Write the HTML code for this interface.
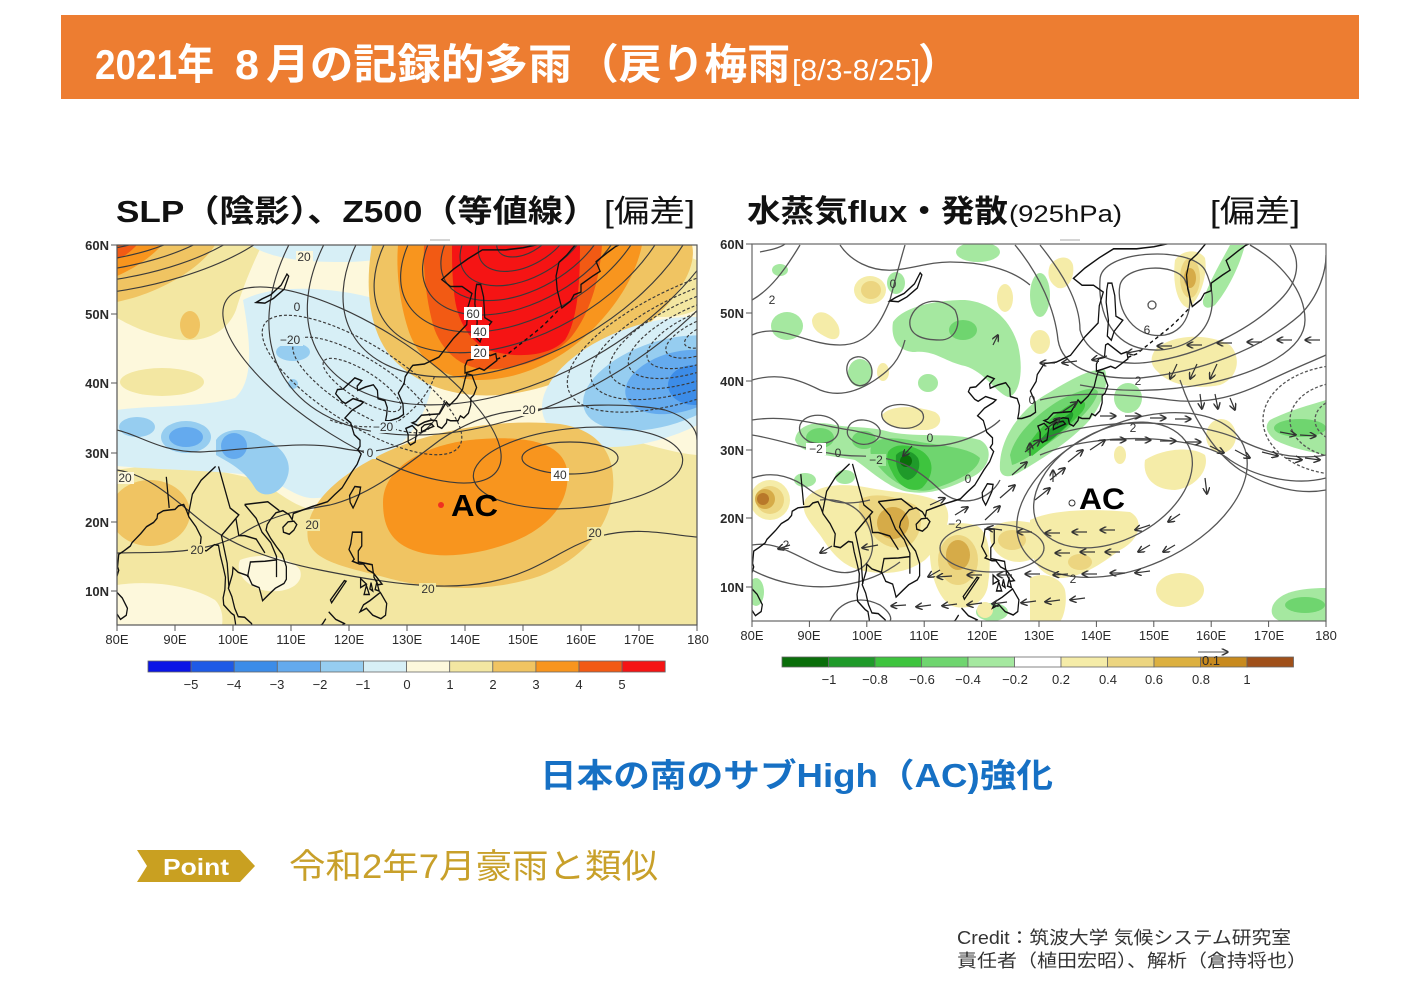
<!DOCTYPE html>
<html><head><meta charset="utf-8">
<style>
html,body{margin:0;padding:0;background:#fff;}
body{width:1422px;height:1006px;overflow:hidden;position:relative;}
svg{position:absolute;left:0;top:0;}
.jp{font-family:"Liberation Sans","Noto Sans CJK JP",sans-serif;}
.ax{font-family:"Liberation Sans",sans-serif;font-size:13px;fill:#2a2a2a;}
.cl{font-family:"Liberation Sans",sans-serif;font-size:12px;fill:#333;}
</style></head>
<body>
<svg width="1422" height="1006" viewBox="0 0 1422 1006" xmlns="http://www.w3.org/2000/svg">
<defs>
<clipPath id="clipL"><rect x="117" y="245" width="580" height="380"/></clipPath>
<clipPath id="clipR"><rect x="752" y="244" width="574" height="377"/></clipPath>
<marker id="ah" viewBox="0 0 10 10" refX="9" refY="5" markerWidth="6" markerHeight="6" orient="auto">
<path d="M0,0 L10,5 L0,10" fill="none" stroke="#333" stroke-width="2"/>
</marker>
<g id="coast" fill="none" stroke="#111" stroke-width="0.22">
<path d="M155,60.5 L150,59.6 L147,59.3 L143,59.3 L140.5,58 L138,56.5 L136,55 L137.5,54 L139.5,54 L141.2,53 L140.5,51 L140.3,48.5 L138,46.5 L135.5,43.8 L133,42.8 L131,42.6 L130.7,42.3 L129.7,41 L129.5,40 L128.5,38.6 L129.3,37 L129.4,35.5 L128.5,35 L127,34.6 L126.3,34.6 L126.5,35.5 L126.6,36.5 L126.2,37.5 L125,37.8 L124.9,39 L124.2,39.8 L122.9,39.5 L121.5,39 L121.4,39.6 L122.2,40.4 L121,40.8 L120,40 L119,39.2 L118,39.1 L117.7,38.5 L118.8,37.4 L119.4,37.1 L120.7,37.8 L122.5,37.3 L122,36.9 L120.5,36.1 L119.3,35 L120.3,34.3 L120.9,32.6 L121.9,31.8 L121.9,30.9 L121.5,30.4 L122.1,29.8 L121.4,28.3 L120.4,27.1 L119.6,26 L118.8,24.9 L117.5,23.9 L116.3,22.9 L114.8,22.5 L113.6,22.2 L112,21.7 L110.4,21.2 L110.2,20.3 L109.7,21 L108.6,21.6 L107.4,21.3 L106.6,20.5 L105.9,19.6 L105.7,18.8 L106.5,17.6 L107.5,16.4 L108.5,15.3 L109.2,13.5 L109.2,11.7 L108.8,11.1 L107.3,10.4 L106.3,9.6 L105.1,8.6 L104.8,9.6 L104.5,10.5 L103.3,10.9 L102.6,12.2 L100.9,12.7 L100,13.4 L99.9,12.4 L99.2,10.4 L99.8,9.2 L100.3,7.5 L100.9,6.3 L102,6.2 L103.2,5.3 L103.5,4"/>
<path d="M100.6,4 L100.4,5.5 L100.2,6.5 L99.7,6.8 L98.4,8 L98.3,9 L98.6,10.2 L98.7,12 L98.3,13.5 L97.8,15.2 L97.5,16.6 L96.8,16.7 L95.4,15.8 L94.3,16 L94.5,17.8 L93.6,19.3 L92.4,20.7 L92,21.6 L91.5,22.5 L90.6,22.3 L90,21.8 L89,21.7 L88,21.6 L87,21.1 L86.9,20.5 L86.3,19.9 L85.1,19.3 L84.1,18.3 L82.6,17 L82.3,16.5 L81.2,15.8 L80.3,15.3 L80.1,13.5 L80.3,13 L79.8,11.6 L79.8,10.3 L79,9.5"/>
<path d="M80,9.8 L80.9,9 L81.8,7.5 L81.6,6.5 L80.6,5.9 L79.9,6.8 L79.8,8.2 Z"/>
<path d="M108.6,19.2 L109.5,20 L110.5,20.1 L111,19.6 L110.5,18.8 L109.7,18.2 L108.7,18.5 Z"/>
<path d="M121,25.1 L122,25 L121.8,24 L121,22.5 L120.7,22 L120.2,22.8 L120.1,23.8 L120.8,24.8 Z"/>
<path d="M129.8,33.5 L130.9,33.9 L131.7,33.2 L131.4,31.5 L130.6,31.1 L130.2,31.5 L130.2,32.6 Z"/>
<path d="M132.5,33 L133.5,33.4 L134.6,33.8 L134.2,34.2 L133,34 L132.5,33.6 Z"/>
<path d="M130.9,34.3 L131.5,34.5 L132.5,35.4 L134,35.5 L135.6,35.6 L136.8,37.3 L137.3,36.8 L138.6,37.9 L139.6,39.2 L140,40.6 L140.3,41.4 L141.2,41.2 L141.5,40.5 L142,39.4 L141.5,38.3 L141,37.9 L141,36.9 L140.6,35.7 L139.8,35 L139.2,35.3 L138.8,34.6 L137.5,34.6 L136.9,34.8 L136.8,34.3 L136,33.5 L135.3,33.8 L135.1,34.6 L134.2,34.7 L133,34.4 L131.9,33.9 Z"/>
<path d="M140,41.5 L141.2,41.8 L142.5,42.2 L143.3,41.9 L145.5,43.3 L145.3,44.3 L144.3,44 L142,45.5 L141.6,45.3 L141.4,43.5 L140.4,43.3 L140,42.5 Z"/>
<path d="M142,54.3 L142.7,54.3 L143.2,52.5 L143.4,49.5 L144.6,48.9 L143.1,47.3 L142.6,46 L141.9,46.6 L142.1,48.9 L141.7,51.5 L141.8,53.3 Z"/>
<path d="M160,61 L157.5,58.5 L156.2,57.5 L155.7,55.5 L155.9,53.5 L156.5,51.5 L156.7,50.9 L158.2,51.9 L158.8,52.8 L160,53.2 L160,54.3 L162,55.5 L163.3,56.2 L162.6,57.6 L163.2,58 L164.7,59 L166,59.8 L168,60.6"/>
<path d="M145.5,43.5 L147,44 L148.5,45 L150,46 L151.5,47 L153,48 L154.5,49.2 L156,50.5" stroke-dasharray="0.6 0.5"/>
<path d="M120.6,18.5 L122.2,18.5 L122.2,16.5 L121.6,15.8 L121.6,14.2 L124,13.8 L124.2,12.6 L123.3,13 L122.5,13.9 L121.8,13.9 L120.6,14.3 L120.9,14.6 L120,16 L120.3,16.8 Z"/>
<path d="M121.9,7 L122.5,8 L123.6,8.6 L125.4,9.8 L126.5,8.2 L126.3,6.5 L125.5,6 L124.1,6.5 L123,7.5 Z"/>
<path d="M124.3,12.5 L125.7,11 L125,10.9 L124.3,12 Z M122,11.8 L123,11 L122,10.5 Z M123,10.8 L123.5,9.5 L122.6,9.5 Z M124.8,11.3 L125.2,10 L124.5,10.2 Z M123.8,11.2 L124.1,10 L123.6,10.3 Z"/>
<path d="M117,8.3 L119.5,11.4 L119.2,11.5 L116.8,8.7 Z"/>
<path d="M116.5,7 L117.7,5.9 L119.2,5.3 L118,4.5 M116,6 L115.4,5.2 L114,4.5"/>
<path d="M104,51.7 L105.5,51.6 L107,52.3 L108.8,53.6 L109.6,55.5 L109.3,55.8 L108.3,54.2 L106.5,52.8 L105,52.2 Z"/>
<path d="M88.5,26.5 L89,22 M97.5,28 L98.5,25 L99.5,22 L101,21 L100,20 L98,18 L98.5,16 L99,14 L99.3,10.5 M102,22.5 L104,20.5 L105,18.5 L106.5,17 L107.5,15 L107.5,12 M102.5,12 L103,14.2 L105.5,14.3 L107.5,14.5 M102,22.5 L106,22.9 L108,21.6 M92.3,21 L93,24 L94.5,26 L97,28 M100.5,20.5 L101,18 L102,18 L104,17.5 L105.5,15.5"/>
</g>
</defs>

<!-- Title bar -->
<rect x="61" y="15" width="1298" height="84" fill="#ED7D31"/>
<g class="jp" fill="#fff" font-weight="bold">
<text x="95" y="79" font-size="42" textLength="119" lengthAdjust="spacingAndGlyphs">2021年</text>
<text x="235" y="79" font-size="42" textLength="24" lengthAdjust="spacingAndGlyphs">8</text>
<text x="266" y="79" font-size="42" textLength="306" lengthAdjust="spacingAndGlyphs">月の記録的多雨</text>
<text x="576" y="79" font-size="42" textLength="214" lengthAdjust="spacingAndGlyphs">（戻り梅雨</text>
<text x="792" y="80" font-size="29" font-weight="normal" textLength="128" lengthAdjust="spacingAndGlyphs">[8/3-8/25]</text>
<text x="918" y="79" font-size="42" textLength="42" lengthAdjust="spacingAndGlyphs">）</text>
</g>

<!-- Map titles -->
<g class="jp" fill="#111">
<text x="116" y="222" font-size="31" font-weight="bold" textLength="482" lengthAdjust="spacingAndGlyphs">SLP（陰影）、Z500（等値線）</text>
<text x="604" y="222" font-size="31" textLength="91" lengthAdjust="spacingAndGlyphs">[偏差]</text>
<text x="747" y="222" font-size="31" font-weight="bold" textLength="261" lengthAdjust="spacingAndGlyphs">水蒸気flux・発散</text>
<text x="1009" y="222" font-size="24" textLength="113" lengthAdjust="spacingAndGlyphs">(925hPa)</text>
<text x="1210" y="222" font-size="31" textLength="90" lengthAdjust="spacingAndGlyphs">[偏差]</text>
</g>
<line x1="430" y1="240" x2="450" y2="240" stroke="#aaa" stroke-width="1"/>
<line x1="1060" y1="240" x2="1080" y2="240" stroke="#aaa" stroke-width="1"/>

<!-- ================= LEFT MAP ================= -->
<g clip-path="url(#clipL)">
<rect x="117" y="245" width="580" height="380" fill="#fdf8dc"/>
<path fill="#f3e7a2" d="M117,470 C160,462 210,468 250,478 C275,485 285,505 320,512 C360,514 390,500 420,470 C450,440 500,425 560,428 C620,432 660,452 697,455 L697,625 L117,625 Z"/>
<path fill="#fdf8dc" d="M117,585 C150,580 190,585 215,600 C225,610 222,625 222,625 L117,625Z"/>
<path fill="#fdf8dc" d="M240,560 C260,552 290,556 300,570 C305,585 285,595 262,590 C245,585 235,572 240,560Z"/>
<path fill="#f3e7a2" d="M117,245 L262,245 C252,265 242,290 236,310 C226,335 200,345 170,338 C140,332 125,322 117,318Z"/>
<ellipse cx="162" cy="382" rx="42" ry="14" fill="#f3e7a2"/>
<ellipse cx="228" cy="410" rx="22" ry="8" fill="#f3e7a2"/>
<ellipse cx="662" cy="285" rx="55" ry="32" fill="#f3e7a2"/>
<path fill="#f0c462" d="M117,245 L215,245 C205,262 180,280 150,292 C135,298 125,300 117,302Z"/>
<path fill="#f8951e" d="M117,245 L162,245 C150,258 135,268 117,276Z"/>
<path fill="#f25a14" d="M117,245 L137,245 C130,252 124,257 117,259Z"/>
<ellipse cx="190" cy="325" rx="10" ry="14" fill="#f0c462"/>
<path fill="#d7eff6" d="M243,300 C270,285 330,285 380,300 C420,315 440,350 432,385 C425,420 405,445 380,460 C360,480 340,500 310,498 C290,495 280,480 250,475 C210,470 160,470 117,466 L117,410 C150,405 200,408 235,398 C255,380 250,340 243,300Z"/>
<path fill="#d7eff6" d="M250,245 L420,245 C410,255 380,262 340,262 C300,262 270,258 250,245Z"/>
<ellipse cx="293" cy="352" rx="17" ry="9" fill="#96cdf0"/>
<circle cx="293" cy="384" r="5" fill="#96cdf0"/>
<ellipse cx="137" cy="427" rx="18" ry="10" fill="#96cdf0"/>
<ellipse cx="186" cy="437" rx="25" ry="16" fill="#96cdf0"/>
<path fill="#96cdf0" d="M216,440 C225,426 250,428 262,438 C280,445 294,460 287,478 C280,496 262,499 255,488 C245,470 228,462 216,455Z"/>
<ellipse cx="186" cy="437" rx="17" ry="10" fill="#64aaee"/>
<ellipse cx="234" cy="446" rx="13" ry="13" fill="#64aaee"/>
<path fill="#f0c462" d="M372,245 L692,245 C697,265 682,295 642,330 C602,365 560,387 510,394 C460,400 420,387 394,360 C370,335 364,290 372,245Z"/>
<path fill="#f8951e" d="M398,245 L642,245 C637,270 622,300 592,330 C562,360 520,380 480,380 C445,380 420,362 409,332 C399,302 396,270 398,245Z"/>
<path fill="#f25a14" d="M424,245 L602,245 C600,275 592,310 572,336 C552,360 512,371 482,369 C456,366 438,346 432,321 C426,296 423,270 424,245Z"/>
<path fill="#f51414" d="M452,245 L580,245 C580,280 578,320 565,340 C550,356 520,358 495,352 C470,346 458,320 455,300 C452,280 452,260 452,245Z"/>
<ellipse cx="650" cy="382" rx="112" ry="58" transform="rotate(-18 650 382)" fill="#d7eff6"/>
<ellipse cx="664" cy="383" rx="84" ry="42" transform="rotate(-18 664 383)" fill="#96cdf0"/>
<ellipse cx="678" cy="382" rx="54" ry="30" transform="rotate(-15 678 382)" fill="#64aaee"/>
<ellipse cx="694" cy="385" rx="26" ry="20" fill="#3c8ce8"/>
<path fill="#f0c462" d="M308,540 C303,510 330,480 380,455 C430,430 500,418 560,424 C600,430 616,455 613,490 C609,530 580,560 540,576 C490,593 430,591 380,576 C340,566 313,560 308,540Z"/>
<path fill="#f8951e" d="M383,502 C383,470 420,446 470,440 C520,435 562,440 567,470 C571,500 551,526 515,541 C475,557 430,561 404,546 C387,536 383,520 383,502Z"/>
<ellipse cx="150" cy="513" rx="40" ry="33" fill="#f0c462"/>

<g fill="none" stroke="#3a3a3a" stroke-width="1.15">
<g transform="rotate(-30 525 235)">
<ellipse cx="525" cy="235" rx="31" ry="18"/>
<ellipse cx="525" cy="235" rx="51" ry="30"/>
<ellipse cx="525" cy="235" rx="71" ry="42"/>
<ellipse cx="525" cy="235" rx="92" ry="54"/>
<ellipse cx="525" cy="235" rx="112" ry="66"/>
<ellipse cx="525" cy="235" rx="136" ry="80"/>
<ellipse cx="525" cy="235" rx="165" ry="97"/>
<ellipse cx="525" cy="235" rx="199" ry="117"/>
<ellipse cx="525" cy="235" rx="238" ry="140"/>
<ellipse cx="525" cy="235" rx="280" ry="165"/>
</g>
<g transform="rotate(-8 100 215)">
<ellipse cx="100" cy="215" rx="40" ry="15"/>
<ellipse cx="100" cy="215" rx="65" ry="25"/>
<ellipse cx="100" cy="215" rx="90" ry="35"/>
<ellipse cx="100" cy="215" rx="115" ry="45"/>
<ellipse cx="100" cy="215" rx="140" ry="55"/>
<ellipse cx="100" cy="215" rx="168" ry="66"/>
<ellipse cx="100" cy="215" rx="196" ry="78"/>
</g>
<g transform="rotate(32 362 385)">
<ellipse cx="362" cy="385" rx="45" ry="14" stroke-dasharray="3 2"/>
<ellipse cx="362" cy="385" rx="80" ry="26" stroke-dasharray="3 2"/>
<ellipse cx="362" cy="385" rx="115" ry="40" stroke-dasharray="3 2"/>
<ellipse cx="362" cy="385" rx="160" ry="58"/>
</g>
<g transform="rotate(-22 708 335)" stroke-dasharray="3 2">
<ellipse cx="708" cy="335" rx="25" ry="10"/>
<ellipse cx="708" cy="335" rx="45" ry="17"/>
<ellipse cx="708" cy="335" rx="65" ry="25"/>
<ellipse cx="708" cy="335" rx="85" ry="32"/>
<ellipse cx="708" cy="335" rx="105" ry="40"/>
<ellipse cx="708" cy="335" rx="125" ry="48"/>
<ellipse cx="708" cy="335" rx="150" ry="57"/>
</g>
<ellipse cx="570" cy="458" rx="48" ry="16"/>
<ellipse cx="578" cy="468" rx="105" ry="40" transform="rotate(-5 578 468)"/>
<path d="M117,470 C150,475 175,500 200,520 C230,545 270,560 320,570 C380,582 440,592 490,582 C540,572 560,548 600,536 C640,526 670,535 697,537"/>
<path d="M117,553 C160,552 200,555 240,535 C270,515 300,510 330,505 C370,495 400,470 440,440 C470,420 500,410 530,410 C580,405 625,402 665,410 C690,418 697,430 697,440"/>
<path d="M117,430 C140,435 160,452 200,452 C250,450 300,440 340,448 C360,452 380,455 410,440 C430,430 440,415 445,400"/>
<path d="M330,420 C350,428 380,430 400,420 C420,405 430,390 435,375" stroke-dasharray="3 2"/>
</g>
<use href="#coast" transform="matrix(5.8,0,0,-6.92,-347,660.2)"/>
<g class="cl" text-anchor="middle">
<rect x="296" y="251" width="17" height="12" fill="#fdf8dc"/><text x="304" y="261">20</text>
<rect x="291" y="301" width="12" height="12" fill="#d7eff6"/><text x="297" y="311">0</text>
<rect x="278" y="334" width="25" height="12" fill="#d7eff6"/><text x="290" y="344">−20</text>
<rect x="464" y="307" width="18" height="13" fill="#fff"/><text x="473" y="318">60</text>
<rect x="471" y="325" width="18" height="13" fill="#fff"/><text x="480" y="336">40</text>
<rect x="471" y="346" width="18" height="13" fill="#fff"/><text x="480" y="357">20</text>
<rect x="371" y="421" width="25" height="12" fill="#d7eff6"/><text x="383" y="431">−20</text>
<rect x="521" y="404" width="17" height="12" fill="#fdf8dc"/><text x="529" y="414">20</text>
<rect x="364" y="447" width="12" height="12" fill="#d7eff6"/><text x="370" y="457">0</text>
<rect x="551" y="468" width="18" height="13" fill="#fff"/><text x="560" y="479">40</text>
<rect x="117" y="472" width="17" height="12" fill="#fdf8dc"/><text x="125" y="482">20</text>
<rect x="303" y="519" width="17" height="12" fill="#f3e7a2"/><text x="312" y="529">20</text>
<rect x="188" y="544" width="17" height="12" fill="#f3e7a2"/><text x="197" y="554">20</text>
<rect x="587" y="527" width="17" height="12" fill="#f3e7a2"/><text x="595" y="537">20</text>
<rect x="419" y="583" width="17" height="12" fill="#f3e7a2"/><text x="428" y="593">20</text>
</g>
<circle cx="441" cy="505" r="3" fill="#f03020"/>
<text x="451" y="516" class="jp" font-size="31" font-weight="bold" fill="#000" textLength="47" lengthAdjust="spacingAndGlyphs">AC</text>
</g>
<rect x="117" y="245" width="580" height="380" fill="none" stroke="#555" stroke-width="1.2"/>
<g stroke="#555" stroke-width="1">
<path d="M111,245H117M111,314H117M111,383H117M111,453H117M111,522H117M111,591H117"/>
<path d="M117,625V631M175,625V631M233,625V631M291,625V631M349,625V631M407,625V631M465,625V631M523,625V631M581,625V631M639,625V631M697,625V631"/>
</g>
<g class="ax" text-anchor="end" font-weight="bold">
<text x="109" y="250">60N</text><text x="109" y="319">50N</text><text x="109" y="388">40N</text>
<text x="109" y="458">30N</text><text x="109" y="527">20N</text><text x="109" y="596">10N</text>
</g>
<g class="ax" text-anchor="middle">
<text x="117" y="644">80E</text><text x="175" y="644">90E</text><text x="233" y="644">100E</text>
<text x="291" y="644">110E</text><text x="349" y="644">120E</text><text x="407" y="644">130E</text>
<text x="465" y="644">140E</text><text x="523" y="644">150E</text><text x="581" y="644">160E</text>
<text x="639" y="644">170E</text><text x="698" y="644">180</text>
</g>
<g stroke="#666" stroke-width="0.8">
<rect x="148" y="661" width="43.1" height="11" fill="#0a14e6"/>
<rect x="191.1" y="661" width="43.1" height="11" fill="#1e5ae6"/>
<rect x="234.2" y="661" width="43.1" height="11" fill="#3c8ce8"/>
<rect x="277.3" y="661" width="43.1" height="11" fill="#64aaee"/>
<rect x="320.4" y="661" width="43.1" height="11" fill="#96cdf0"/>
<rect x="363.5" y="661" width="43.1" height="11" fill="#d7eff6"/>
<rect x="406.6" y="661" width="43.1" height="11" fill="#fdf8dc"/>
<rect x="449.7" y="661" width="43.1" height="11" fill="#f3e7a2"/>
<rect x="492.8" y="661" width="43.1" height="11" fill="#f0c462"/>
<rect x="535.9" y="661" width="43.1" height="11" fill="#f8951e"/>
<rect x="579" y="661" width="43.1" height="11" fill="#f25a14"/>
<rect x="622.1" y="661" width="43.1" height="11" fill="#f51414"/>
</g>
<g class="ax" text-anchor="middle" font-size="14">
<text x="191" y="689">−5</text><text x="234" y="689">−4</text><text x="277" y="689">−3</text>
<text x="320" y="689">−2</text><text x="363" y="689">−1</text><text x="407" y="689">0</text>
<text x="450" y="689">1</text><text x="493" y="689">2</text><text x="536" y="689">3</text>
<text x="579" y="689">4</text><text x="622" y="689">5</text>
</g>

<!-- ================= RIGHT MAP ================= -->
<g clip-path="url(#clipR)">
<rect x="752" y="244" width="574" height="377" fill="#fff"/>
<g fill="#a5e8a0">
<ellipse cx="978" cy="252" rx="22" ry="10"/>
<ellipse cx="896" cy="283" rx="9" ry="11"/>
<ellipse cx="787" cy="326" rx="16" ry="14"/>
<path d="M893,322 C905,305 940,300 965,300 C990,302 1010,318 1018,345 C1024,370 1020,395 1008,397 C995,392 985,372 965,366 C945,362 935,350 915,352 C900,352 890,340 893,322Z"/>
<ellipse cx="860" cy="373" rx="12" ry="14"/>
<ellipse cx="928" cy="383" rx="10" ry="9"/>
<path d="M795,440 C797,425 815,420 835,425 C850,428 870,426 890,432 C920,438 950,432 980,440 C995,448 990,470 970,478 C950,488 930,495 910,492 C890,490 870,470 855,460 C830,455 800,455 795,440Z"/>
<ellipse cx="805" cy="480" rx="11" ry="7"/>
<ellipse cx="845" cy="477" rx="10" ry="7"/>
<path d="M1000,470 C998,440 1020,410 1045,395 C1070,380 1090,368 1105,370 C1110,385 1100,410 1085,425 C1065,445 1040,460 1020,472 C1010,478 1002,478 1000,470Z"/>
<ellipse cx="1040" cy="295" rx="10" ry="22"/>
<path d="M1203,300 C1210,280 1222,260 1230,245 L1245,245 C1240,265 1228,290 1215,305 C1208,310 1202,308 1203,300Z"/>
<ellipse cx="1128" cy="398" rx="14" ry="15"/>
<path d="M1270,420 C1290,410 1310,405 1326,400 L1326,455 C1310,452 1290,448 1275,440 C1265,432 1265,425 1270,420Z"/>
<path d="M1273,605 C1280,592 1300,588 1326,588 L1326,621 L1280,621 C1272,618 1270,612 1273,605Z"/>
<ellipse cx="992" cy="612" rx="16" ry="9"/>
<ellipse cx="756" cy="592" rx="8" ry="14"/>
<ellipse cx="780" cy="270" rx="8" ry="6"/>
</g>
<g fill="#6fd56f">
<path d="M872,445 C880,435 900,438 920,442 C945,446 970,448 980,458 C978,472 955,482 930,490 C910,494 890,480 880,468 C872,460 868,452 872,445Z"/>
<ellipse cx="820" cy="438" rx="14" ry="10"/>
<ellipse cx="864" cy="440" rx="12" ry="9"/>
<path d="M1010,455 C1015,435 1035,415 1060,400 C1080,390 1095,385 1098,392 C1095,405 1080,420 1060,435 C1040,450 1022,462 1012,465Z"/>
<ellipse cx="963" cy="330" rx="14" ry="10"/>
<ellipse cx="1300" cy="428" rx="26" ry="9"/>
<ellipse cx="1305" cy="605" rx="20" ry="8"/>
</g>
<g fill="#3ec43e">
<path d="M888,452 C895,442 910,445 920,450 C935,458 935,475 922,488 C910,494 898,485 892,472 C888,465 886,458 888,452Z"/>
<path d="M1025,450 C1035,432 1055,412 1075,402 C1085,398 1088,404 1082,412 C1070,425 1050,442 1032,456Z"/>
</g>
<g fill="#1f9a2a">
<path d="M896,455 C902,448 912,450 918,458 C922,468 916,478 908,480 C900,478 895,468 896,455Z"/>
<path d="M1040,440 C1050,428 1062,418 1072,412 C1076,414 1070,424 1060,432 C1052,440 1045,445 1040,440Z"/>
</g>
<circle cx="906" cy="461" r="6" fill="#0a6e0a"/>
<g fill="#f5eca8">
<ellipse cx="870" cy="290" rx="16" ry="14"/>
<path d="M812,320 C815,308 830,310 838,325 C842,335 838,342 828,338 C820,334 812,330 812,320Z"/>
<ellipse cx="883" cy="372" rx="6" ry="9"/>
<path d="M882,415 C890,405 915,405 935,412 C945,418 940,430 925,430 C905,430 885,428 882,415Z"/>
<ellipse cx="770" cy="500" rx="20" ry="20"/>
<path d="M805,500 C815,485 840,482 870,488 C900,494 925,492 945,505 C955,520 940,545 925,560 C905,575 880,575 860,570 C840,565 830,550 820,535 C810,522 800,512 805,500Z"/>
<path d="M930,540 C935,525 955,520 975,525 C990,530 992,560 988,585 C985,605 965,612 950,605 C935,595 928,565 930,540Z"/>
<path d="M990,530 C1000,518 1030,518 1048,530 C1055,545 1040,560 1020,562 C1000,562 988,548 990,530Z"/>
<path d="M1030,520 C1050,510 1090,508 1130,512 C1145,520 1140,540 1120,550 C1100,565 1080,578 1060,578 C1040,576 1030,560 1030,540Z"/>
<path d="M1030,578 C1040,572 1060,575 1065,590 C1068,605 1062,621 1060,621 L1030,621Z"/>
<ellipse cx="1180" cy="590" rx="24" ry="17"/>
<path d="M1145,460 C1160,450 1190,445 1205,455 C1210,470 1195,488 1175,490 C1155,490 1142,478 1145,460Z"/>
<ellipse cx="1120" cy="455" rx="6" ry="9"/>
<path d="M1155,350 C1170,335 1205,332 1230,345 C1242,358 1238,378 1220,385 C1195,390 1170,385 1158,372 C1150,365 1150,358 1155,350Z"/>
<ellipse cx="1221" cy="436" rx="15" ry="17"/>
<path d="M1050,265 C1058,255 1070,255 1073,265 C1075,278 1068,290 1058,288 C1050,284 1046,275 1050,265Z"/>
<path d="M1175,260 C1182,250 1198,248 1205,258 C1208,275 1200,300 1188,308 C1178,305 1172,285 1175,260Z"/>
<ellipse cx="1040" cy="342" rx="10" ry="12"/>
<ellipse cx="1005" cy="298" rx="8" ry="14"/>
<ellipse cx="985" cy="610" rx="8" ry="8"/>
</g>
<g fill="#ecd580">
<ellipse cx="770" cy="500" rx="14" ry="14"/>
<path d="M860,500 C870,492 895,495 915,505 C925,515 922,535 910,545 C895,552 878,545 870,530 C862,520 856,510 860,500Z"/>
<ellipse cx="958" cy="560" rx="20" ry="25"/>
<ellipse cx="871" cy="290" rx="10" ry="9"/>
<ellipse cx="1190" cy="278" rx="10" ry="20"/>
<ellipse cx="1080" cy="562" rx="12" ry="8"/>
<ellipse cx="1012" cy="540" rx="14" ry="10"/>
</g>
<g fill="#d6ab48">
<ellipse cx="765" cy="499" rx="10" ry="10"/>
<ellipse cx="893" cy="523" rx="16" ry="16"/>
<ellipse cx="958" cy="555" rx="12" ry="15"/>
<ellipse cx="1190" cy="278" rx="6" ry="10"/>
</g>
<ellipse cx="763" cy="499" rx="6" ry="6" fill="#b8782a"/>

<g fill="none" stroke="#555" stroke-width="1.3">
<path d="M752,300 C770,290 785,270 800,245"/>
<path d="M752,335 C780,322 805,345 840,345 C870,345 882,320 890,300 C895,280 900,262 905,245"/>
<path d="M752,380 C780,372 800,380 820,390 C840,398 860,390 875,380 C890,370 900,360 905,340"/>
<path d="M840,245 C850,260 870,272 895,270 C915,268 930,262 950,262 C980,262 1010,268 1030,285"/>
<path d="M910,320 C915,300 940,295 955,310 C962,325 955,340 940,340 C922,340 908,335 910,320Z"/>
<path d="M850,360 C860,352 872,360 872,372 C872,384 860,390 852,382 C846,375 845,366 850,360Z"/>
<path d="M1120,285 C1125,265 1175,262 1185,280 C1195,300 1190,330 1165,335 C1135,340 1115,310 1120,285Z"/>
<path d="M1100,280 C1100,250 1190,245 1205,270 C1220,300 1215,345 1160,350 C1110,352 1098,310 1100,280Z"/>
<circle cx="1152" cy="305" r="4"/>
<path d="M1040,245 C1060,270 1080,300 1080,330 C1085,350 1110,368 1150,362 C1200,355 1250,330 1280,300 C1300,280 1300,260 1290,245"/>
<path d="M1015,245 C1040,275 1055,310 1058,340 C1062,365 1090,380 1140,378 C1200,372 1260,350 1300,315 C1320,295 1326,270 1326,255"/>
<path d="M1250,245 C1280,262 1305,290 1305,320 C1305,350 1260,372 1210,383 C1160,393 1115,392 1080,385"/>
<path d="M1040,400 C1080,390 1130,395 1170,400 C1210,405 1240,395 1270,380 C1295,368 1315,360 1326,355"/>
<path d="M1040,440 C1100,415 1200,420 1240,440 C1270,455 1300,460 1326,455"/>
<path d="M1040,455 C1100,430 1200,435 1230,460 C1260,480 1300,485 1326,478"/>
<path d="M1180,380 C1190,410 1210,450 1240,470 C1270,488 1300,495 1326,490"/>
<g stroke-dasharray="3 2">
<ellipse cx="1345" cy="420" rx="30" ry="22"/>
<ellipse cx="1345" cy="420" rx="55" ry="38"/>
<ellipse cx="1345" cy="420" rx="82" ry="55"/>
</g>
<ellipse cx="1113" cy="485" rx="85" ry="55" transform="rotate(-28 1113 485)"/>
<ellipse cx="1132" cy="495" rx="122" ry="72" transform="rotate(-24 1132 495)"/>
<ellipse cx="992" cy="548" rx="52" ry="24"/>
<path d="M752,420 C790,414 820,426 850,430 C880,435 900,446 930,446 C960,446 990,430 1000,420"/>
<path d="M752,435 C790,441 820,456 860,456 C900,456 920,471 940,490 C960,510 990,500 1000,480"/>
<path d="M800,425 C805,412 830,412 838,425 C842,440 825,447 810,442 C802,438 798,432 800,425Z"/>
<path d="M848,428 C852,416 875,418 880,430 C882,442 865,448 855,442 C848,438 846,434 848,428Z"/>
<path d="M882,412 C888,402 912,402 922,412 C928,422 915,430 900,428 C888,426 880,420 882,412Z"/>
<path d="M752,478 C775,470 795,478 810,490 C830,505 850,505 870,500"/>
<path d="M752,545 C780,540 800,560 830,570 C860,580 880,560 870,530 C862,505 840,498 820,500"/>
<path d="M752,570 C800,595 860,592 900,562"/>
<path d="M830,621 C840,600 860,595 880,605 C890,612 892,618 890,621"/>
<path d="M760,252 C770,250 780,248 785,244"/>
</g>
<use href="#coast" transform="matrix(5.74,0,0,-6.87,292.8,656.2)"/>
<g stroke="#333" stroke-width="1.2" marker-end="url(#ah)">
<line x1="985" y1="520" x2="1000" y2="506"/><line x1="1000" y1="498" x2="1015" y2="485"/>
<line x1="1012" y1="475" x2="1027" y2="462"/><line x1="1025" y1="452" x2="1040" y2="440"/>
<line x1="1045" y1="430" x2="1060" y2="418"/><line x1="1062" y1="412" x2="1077" y2="402"/>
<line x1="1035" y1="500" x2="1050" y2="488"/><line x1="1050" y1="480" x2="1065" y2="468"/>
<line x1="1068" y1="462" x2="1083" y2="450"/><line x1="1090" y1="450" x2="1105" y2="440"/>
<line x1="955" y1="515" x2="968" y2="507"/><line x1="930" y1="505" x2="945" y2="498"/>
<line x1="1100" y1="416" x2="1116" y2="416"/><line x1="1125" y1="416" x2="1141" y2="416"/>
<line x1="1150" y1="418" x2="1166" y2="418"/><line x1="1175" y1="419" x2="1191" y2="419"/>
<line x1="1110" y1="440" x2="1126" y2="440"/><line x1="1135" y1="440" x2="1151" y2="440"/>
<line x1="1160" y1="441" x2="1176" y2="441"/><line x1="1185" y1="442" x2="1201" y2="442"/>
<line x1="1210" y1="446" x2="1224" y2="453"/><line x1="1235" y1="450" x2="1250" y2="458"/>
<line x1="1262" y1="452" x2="1278" y2="456"/><line x1="1286" y1="458" x2="1302" y2="460"/>
<line x1="1305" y1="458" x2="1320" y2="460"/><line x1="1280" y1="432" x2="1296" y2="435"/>
<line x1="1300" y1="435" x2="1316" y2="436"/>
<line x1="1320" y1="340" x2="1305" y2="340"/><line x1="1292" y1="340" x2="1277" y2="340"/>
<line x1="1262" y1="342" x2="1247" y2="342"/><line x1="1232" y1="343" x2="1217" y2="343"/>
<line x1="1202" y1="345" x2="1187" y2="345"/><line x1="1172" y1="346" x2="1157" y2="346"/>
<line x1="1142" y1="350" x2="1127" y2="353"/><line x1="1107" y1="356" x2="1092" y2="360"/>
<line x1="1077" y1="361" x2="1062" y2="363"/><line x1="1055" y1="363" x2="1040" y2="363"/>
<line x1="1177" y1="364" x2="1170" y2="379"/><line x1="1197" y1="364" x2="1190" y2="379"/>
<line x1="1217" y1="364" x2="1210" y2="379"/>
<line x1="1200" y1="394" x2="1202" y2="409"/><line x1="1215" y1="394" x2="1218" y2="409"/>
<line x1="1230" y1="398" x2="1235" y2="410"/>
<line x1="1205" y1="478" x2="1207" y2="494"/>
<line x1="1053" y1="482" x2="1053" y2="470"/><line x1="1030" y1="456" x2="1030" y2="443" />
<line x1="1180" y1="514" x2="1168" y2="522"/><line x1="1150" y1="525" x2="1135" y2="530"/>
<line x1="1115" y1="530" x2="1100" y2="530"/><line x1="1087" y1="532" x2="1072" y2="532"/>
<line x1="1060" y1="533" x2="1045" y2="533"/><line x1="1032" y1="532" x2="1017" y2="532"/>
<line x1="1002" y1="530" x2="987" y2="528"/>
<line x1="1150" y1="545" x2="1138" y2="552"/><line x1="1175" y1="545" x2="1163" y2="552"/>
<line x1="1120" y1="552" x2="1105" y2="552"/><line x1="1095" y1="552" x2="1080" y2="552"/>
<line x1="1070" y1="553" x2="1055" y2="553"/>
<line x1="1150" y1="571" x2="1135" y2="573"/><line x1="1125" y1="573" x2="1110" y2="573"/>
<line x1="1097" y1="574" x2="1082" y2="574"/><line x1="1068" y1="574" x2="1053" y2="575"/>
<line x1="1040" y1="574" x2="1025" y2="574"/><line x1="1012" y1="575" x2="997" y2="575"/>
<line x1="982" y1="575" x2="967" y2="575"/><line x1="952" y1="576" x2="937" y2="577"/>
<line x1="1085" y1="598" x2="1070" y2="600"/><line x1="1060" y1="600" x2="1045" y2="602"/>
<line x1="1036" y1="601" x2="1021" y2="603"/><line x1="1007" y1="602" x2="992" y2="604"/>
<line x1="982" y1="603" x2="967" y2="605"/><line x1="957" y1="604" x2="942" y2="606"/>
<line x1="931" y1="605" x2="916" y2="607"/><line x1="906" y1="605" x2="891" y2="606"/>
<line x1="790" y1="545" x2="778" y2="549"/><line x1="832" y1="546" x2="820" y2="553"/>
<line x1="912" y1="446" x2="903" y2="456"/><line x1="878" y1="545" x2="862" y2="548"/>
<line x1="940" y1="570" x2="928" y2="577"/><line x1="993" y1="345" x2="998" y2="335"/>
</g>
<g class="cl" text-anchor="middle">
<text x="772" y="304">2</text><text x="893" y="288">0</text><text x="1032" y="404">0</text>
<text x="1147" y="334">6</text><text x="1138" y="385">2</text><text x="1133" y="432">2</text>
<rect x="806" y="443" width="20" height="12" fill="#fff"/><text x="816" y="453">−2</text>
<text x="838" y="457">0</text>
<rect x="866" y="454" width="20" height="12" fill="#a5e8a0"/><text x="876" y="464">−2</text>
<text x="930" y="442">0</text><text x="968" y="483">0</text>
<text x="955" y="528">−2</text><text x="1073" y="583">2</text><text x="786" y="549">2</text>
</g>
<circle cx="1072" cy="503" r="3" fill="#fff" stroke="#333" stroke-width="1"/>
<text x="1079" y="509" class="jp" font-size="30" font-weight="bold" fill="#000" textLength="46" lengthAdjust="spacingAndGlyphs">AC</text>
</g>
<rect x="752" y="244" width="574" height="377" fill="none" stroke="#666" stroke-width="1.2"/>
<g stroke="#555" stroke-width="1">
<path d="M746,244H752M746,313H752M746,381H752M746,450H752M746,518H752M746,587H752"/>
<path d="M752,621V627M809.4,621V627M866.8,621V627M924.2,621V627M981.6,621V627M1039,621V627M1096.4,621V627M1153.8,621V627M1211.2,621V627M1268.6,621V627M1326,621V627"/>
</g>
<g class="ax" text-anchor="end" font-weight="bold">
<text x="744" y="249">60N</text><text x="744" y="318">50N</text><text x="744" y="386">40N</text>
<text x="744" y="455">30N</text><text x="744" y="523">20N</text><text x="744" y="592">10N</text>
</g>
<g class="ax" text-anchor="middle">
<text x="752" y="640">80E</text><text x="809" y="640">90E</text><text x="867" y="640">100E</text>
<text x="924" y="640">110E</text><text x="982" y="640">120E</text><text x="1039" y="640">130E</text>
<text x="1096" y="640">140E</text><text x="1154" y="640">150E</text><text x="1211" y="640">160E</text>
<text x="1269" y="640">170E</text><text x="1326" y="640">180</text>
</g>
<g stroke="#666" stroke-width="0.8">
<rect x="782" y="657" width="46.5" height="10" fill="#0a6e0a"/>
<rect x="828.5" y="657" width="46.5" height="10" fill="#1f9a2a"/>
<rect x="875" y="657" width="46.5" height="10" fill="#3ec43e"/>
<rect x="921.5" y="657" width="46.5" height="10" fill="#6fd56f"/>
<rect x="968" y="657" width="46.5" height="10" fill="#a5e8a0"/>
<rect x="1014.5" y="657" width="46.5" height="10" fill="#ffffff"/>
<rect x="1061" y="657" width="46.5" height="10" fill="#f5eca8"/>
<rect x="1107.5" y="657" width="46.5" height="10" fill="#ecd580"/>
<rect x="1154" y="657" width="46.5" height="10" fill="#dcb040"/>
<rect x="1200.5" y="657" width="46.5" height="10" fill="#c88a1e"/>
<rect x="1247" y="657" width="46.5" height="10" fill="#a0501a"/>
</g>
<line x1="1198" y1="652" x2="1228" y2="652" stroke="#777" stroke-width="1.2" marker-end="url(#ah)"/>
<text x="1211" y="665" class="ax" font-size="9" fill="#555" text-anchor="middle">0.1</text>
<g class="ax" text-anchor="middle" font-size="14">
<text x="829" y="684">−1</text><text x="875" y="684">−0.8</text><text x="922" y="684">−0.6</text>
<text x="968" y="684">−0.4</text><text x="1015" y="684">−0.2</text><text x="1061" y="684">0.2</text>
<text x="1108" y="684">0.4</text><text x="1154" y="684">0.6</text><text x="1201" y="684">0.8</text>
<text x="1247" y="684">1</text>
</g>

<!-- Bottom text -->
<text x="540" y="787" class="jp" font-size="33" font-weight="bold" fill="#1670C4" textLength="513" lengthAdjust="spacingAndGlyphs">日本の南のサブHigh（AC)強化</text>
<path d="M137,850 L240,850 L255,866 L240,882 L137,882 L147,866 Z" fill="#C9A021"/>
<text x="163" y="875" class="jp" font-size="23" font-weight="bold" fill="#fff" textLength="66" lengthAdjust="spacingAndGlyphs">Point</text>
<text x="289" y="878" class="jp" font-size="34" fill="#C8A02A" textLength="369" lengthAdjust="spacingAndGlyphs">令和2年7月豪雨と類似</text>
<text x="957" y="944" class="jp" font-size="18" fill="#333" textLength="334" lengthAdjust="spacingAndGlyphs">Credit：筑波大学 気候システム研究室</text>
<text x="957" y="967" class="jp" font-size="18" fill="#333" textLength="350" lengthAdjust="spacingAndGlyphs">責任者（植田宏昭）、解析（倉持将也）</text>
</svg>
</body></html>
